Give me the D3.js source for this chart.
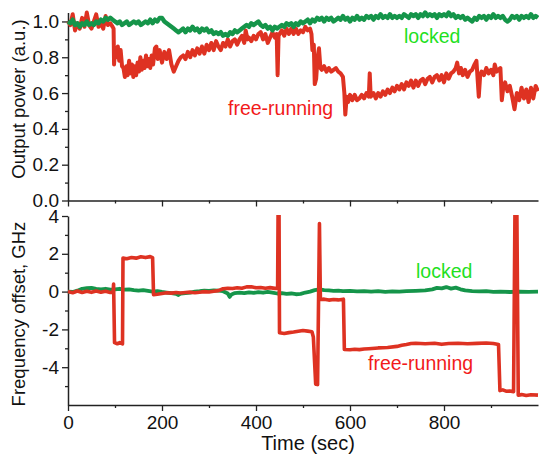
<!DOCTYPE html>
<html>
<head>
<meta charset="utf-8">
<script src="https://cdn.jsdelivr.net/npm/d3@7"></script>
<style>
  html, body { margin: 0; padding: 0; background: #fff; }
  svg { display: block; }
  text { font-family: "Liberation Sans", Arial, Helvetica, sans-serif; }
</style>
</head>
<body>
<script>
// ---------- DATA ----------
const xMajorTicks = [0, 200, 400, 600, 800];
const xMinorTicks = [100, 300, 500, 700, 900];
const powerMajorTicks = [0.0, 0.2, 0.4, 0.6, 0.8, 1.0];
const powerMinorTicks = [0.1, 0.3, 0.5, 0.7, 0.9];
const freqMajorTicks = [-4, -2, 0, 2, 4];
const freqMinorTicks = [-5, -3, -1, 1, 3];

// Output power, free-running laser [time (s), power (a.u.)]
const powerFree = [
[0,1.00],[5,0.98],[10,1.04],[15,0.95],[20,0.99],[25,0.96],[30,1.02],[35,0.97],[40,1.05],[45,0.98],
[50,0.96],[55,1.00],[60,1.04],[65,0.97],[70,0.99],[75,0.96],[80,1.03],[85,0.98],[90,0.99],[95,0.97],
[97,0.96],[98,0.76],[100,0.85],[103,0.80],[106,0.86],[109,0.78],[112,0.84],[115,0.75],[118,0.74],[121,0.69],
[124,0.75],[127,0.70],[130,0.78],[133,0.71],[136,0.76],[139,0.69],[142,0.75],[145,0.70],[148,0.77],[151,0.72],
[154,0.80],[157,0.73],[160,0.78],[163,0.74],[166,0.81],[169,0.75],[172,0.79],[175,0.74],[178,0.81],[181,0.76],
[185,0.85],[188,0.86],[191,0.79],[195,0.84],[200,0.77],[205,0.83],[210,0.79],[215,0.84],[220,0.76],[225,0.72],
[230,0.75],[235,0.78],[240,0.80],[245,0.81],[250,0.79],[255,0.83],[260,0.80],[265,0.84],[270,0.81],[275,0.85],
[280,0.82],[285,0.86],[290,0.82],[295,0.87],[300,0.84],[305,0.88],[310,0.84],[315,0.89],[320,0.86],[325,0.84],
[330,0.88],[335,0.86],[340,0.90],[345,0.86],[350,0.89],[355,0.90],[360,0.87],[365,0.90],[370,0.92],[375,0.88],
[378,0.95],[382,0.90],[385,0.91],[390,0.89],[395,0.92],[400,0.90],[405,0.93],[410,0.94],[415,0.90],[420,0.93],
[425,0.88],[430,0.91],[435,0.94],[440,0.91],[444,0.93],[446,0.70],[448,0.92],[450,0.93],[455,0.95],[460,0.92],
[465,0.96],[470,0.93],[475,0.96],[480,0.93],[485,0.96],[490,0.93],[495,0.95],[500,0.94],[505,0.97],[510,0.95],
[515,0.96],[518,0.93],[520,0.84],[523,0.87],[525,0.65],[528,0.68],[531,0.80],[534,0.85],[537,0.74],[540,0.73],
[545,0.75],[550,0.72],[555,0.74],[560,0.72],[565,0.73],[570,0.74],[575,0.72],[580,0.71],[585,0.69],[588,0.60],
[590,0.48],[593,0.58],[596,0.55],[600,0.59],[605,0.56],[610,0.59],[615,0.56],[620,0.57],[625,0.59],[630,0.57],
[635,0.60],[640,0.58],[642,0.71],[644,0.58],[650,0.60],[655,0.57],[660,0.60],[665,0.58],[670,0.61],[675,0.59],
[680,0.62],[685,0.60],[690,0.63],[695,0.61],[700,0.64],[705,0.62],[710,0.65],[715,0.62],[720,0.66],[725,0.64],
[730,0.67],[735,0.63],[740,0.67],[745,0.64],[750,0.67],[755,0.68],[760,0.65],[765,0.68],[770,0.69],[775,0.66],
[780,0.69],[785,0.70],[790,0.67],[795,0.70],[800,0.66],[805,0.71],[810,0.68],[815,0.71],[820,0.72],[825,0.74],
[828,0.77],[832,0.71],[836,0.74],[840,0.70],[845,0.73],[850,0.69],[855,0.72],[860,0.73],[865,0.76],[869,0.78],
[872,0.66],[874,0.58],[877,0.70],[880,0.72],[885,0.70],[890,0.74],[895,0.71],[900,0.73],[905,0.70],[908,0.76],
[912,0.72],[916,0.73],[920,0.74],[923,0.56],[926,0.63],[930,0.66],[935,0.61],[940,0.64],[945,0.58],[950,0.51],
[955,0.60],[960,0.56],[965,0.63],[970,0.57],[975,0.62],[980,0.55],[985,0.63],[990,0.57],[995,0.64],[1000,0.61]
];

// Output power, injection-locked laser [time (s), power (a.u.)]
const powerLocked = [
[0,1.00],[5,0.99],[10,1.01],[15,0.98],[20,0.99],[25,0.97],[30,0.99],[35,0.98],[40,1.00],[45,0.98],
[50,0.99],[55,0.98],[60,1.00],[65,0.99],[70,1.01],[75,1.00],[80,1.02],[85,1.01],[90,1.02],[95,1.01],
[100,1.00],[105,0.99],[110,1.00],[115,0.98],[120,0.99],[125,1.00],[130,0.98],[135,0.99],[140,1.00],[145,0.99],
[150,1.00],[155,0.98],[160,0.99],[165,1.00],[170,0.99],[175,1.01],[180,0.99],[185,1.01],[190,1.00],[195,1.02],
[200,1.02],[205,1.00],[210,0.99],[215,0.98],[220,0.97],[225,0.96],[230,0.95],[235,0.94],[240,0.95],[245,0.96],
[250,0.94],[255,0.96],[260,0.95],[265,0.97],[270,0.95],[275,0.96],[280,0.94],[285,0.96],[290,0.95],[295,0.96],
[300,0.94],[305,0.95],[310,0.93],[315,0.94],[320,0.93],[325,0.94],[330,0.92],[335,0.93],[340,0.92],[345,0.94],
[350,0.93],[355,0.95],[360,0.94],[365,0.95],[370,0.96],[375,0.97],[380,0.98],[385,0.97],[390,0.99],[395,0.98],
[400,0.99],[405,1.00],[410,0.98],[415,0.97],[420,0.98],[425,0.96],[430,0.97],[435,0.95],[440,0.97],[445,0.96],
[450,0.97],[455,0.98],[460,0.97],[465,0.99],[470,0.98],[475,0.99],[480,0.97],[485,0.99],[490,0.98],[495,1.00],
[500,0.99],[505,1.00],[510,1.01],[515,0.99],[520,1.01],[525,1.00],[530,1.02],[535,1.01],[540,1.02],[545,1.00],
[550,1.02],[555,1.01],[560,1.02],[565,1.00],[570,1.01],[575,1.02],[580,1.01],[585,1.03],[590,1.01],[595,1.02],
[600,1.00],[605,1.02],[610,1.01],[615,1.03],[620,1.01],[625,1.02],[630,1.01],[635,1.03],[640,1.02],[645,1.03],
[650,1.01],[655,1.03],[660,1.02],[665,1.04],[670,1.02],[675,1.03],[680,1.02],[685,1.04],[690,1.02],[695,1.03],
[700,1.02],[705,1.03],[710,1.02],[715,1.04],[720,1.03],[725,1.02],[730,1.04],[735,1.03],[740,1.04],[745,1.02],
[750,1.04],[755,1.03],[760,1.05],[765,1.03],[770,1.04],[775,1.03],[780,1.04],[785,1.02],[790,1.04],[795,1.03],
[800,1.04],[805,1.03],[810,1.05],[815,1.03],[820,1.04],[825,1.02],[830,1.03],[835,1.02],[840,1.03],[845,1.01],
[850,1.02],[855,1.01],[860,1.00],[865,1.02],[870,1.01],[875,1.03],[880,1.02],[885,1.03],[890,1.01],[895,1.03],
[900,1.02],[905,1.04],[910,1.02],[915,1.03],[920,1.02],[925,1.03],[930,1.01],[935,1.00],[940,1.01],[945,1.03],
[950,1.02],[955,1.03],[960,1.01],[965,1.03],[970,1.02],[975,1.03],[980,1.02],[985,1.04],[990,1.02],[995,1.03],
[1000,1.02]
];

// Frequency offset, free-running laser [time (s), offset (GHz)]
const freqFree = [
[0,0.00],[10,-0.06],[20,0.03],[30,-0.05],[40,0.02],[50,-0.04],[60,0.03],[70,-0.03],[80,0.02],[90,-0.05],
[96,-0.02],[97,0.40],[99,-2.70],[105,-2.76],[110,-2.70],[116,-2.76],[117,1.78],[125,1.74],[135,1.80],[145,1.77],
[155,1.84],[165,1.80],[175,1.85],[180,1.80],[182,-0.16],[190,-0.14],[200,-0.10],[210,-0.06],[220,-0.08],[230,-0.05],
[240,-0.07],[250,-0.05],[260,-0.03],[270,-0.06],[280,-0.03],[290,0.00],[300,-0.02],[310,0.02],[320,0.05],[330,0.15],
[340,0.18],[350,0.16],[360,0.20],[370,0.18],[380,0.25],[390,0.26],[400,0.20],[410,0.22],[420,0.18],[430,0.21],
[440,0.17],[446,0.18],[447,4.3],[449,4.3],[450,-2.18],[460,-2.22],[470,-2.17],[480,-2.14],[490,-2.10],[500,-2.06],
[510,-2.09],[519,-2.12],[522,-2.40],[527,-4.90],[531,-4.92],[535,3.6],[537,-0.42],[545,-0.40],[555,-0.45],[565,-0.42],
[575,-0.44],[586,-0.40],[588,-3.06],[600,-3.08],[610,-3.05],[620,-3.07],[630,-3.04],[640,-3.02],[660,-2.98],[680,-2.96],
[700,-2.90],[710,-2.84],[720,-2.80],[730,-2.75],[740,-2.73],[760,-2.76],[780,-2.73],[795,-2.79],[810,-2.75],[830,-2.73],
[850,-2.76],[870,-2.74],[890,-2.72],[905,-2.75],[916,-2.80],[919,-5.24],[925,-5.20],[932,-5.27],[940,-5.26],[948,-5.30],
[951,4.3],[955,4.3],[958,-5.48],[965,-5.45],[975,-5.50],[985,-5.46],[1000,-5.48]
];

// Frequency offset, injection-locked laser [time (s), offset (GHz)]
const freqLocked = [
[0,0.00],[10,-0.02],[20,0.05],[30,0.15],[40,0.18],[50,0.20],[60,0.15],[70,0.12],[80,0.15],[90,0.10],
[100,0.12],[110,0.15],[120,0.10],[130,0.12],[140,0.08],[150,0.05],[160,0.08],[170,0.04],[180,0.00],[190,0.02],
[200,-0.02],[210,-0.05],[220,-0.08],[230,-0.12],[235,-0.18],[240,-0.10],[250,-0.08],[260,-0.05],[270,0.00],[280,0.02],
[290,0.05],[300,0.04],[310,0.06],[320,0.05],[330,0.02],[340,-0.10],[344,-0.28],[348,-0.15],[355,-0.08],[365,-0.05],
[375,-0.08],[385,-0.04],[395,-0.07],[405,-0.03],[415,-0.06],[425,-0.02],[435,-0.05],[445,-0.10],[455,-0.08],[465,-0.12],
[475,-0.10],[485,-0.14],[495,-0.12],[505,-0.05],[515,0.00],[525,0.08],[535,0.12],[545,0.08],[555,0.06],[565,0.04],
[575,0.05],[585,0.02],[600,0.04],[615,0.01],[630,0.03],[645,0.00],[660,0.02],[675,-0.01],[690,0.01],[705,0.00],
[720,0.02],[740,0.04],[760,0.06],[775,0.12],[785,0.20],[795,0.17],[805,0.24],[815,0.16],[825,0.21],[835,0.12],
[845,0.06],[860,0.03],[875,0.01],[890,0.02],[905,-0.01],[920,0.00],[940,-0.02],[960,0.00],[980,-0.01],[1000,0.00]
];

// ---------- CHART ----------
const W = 539, H = 459;
const red = "#de3222", green = "#15954a";
const redText = "#f21a1a", greenText = "#1fe01f";

const svg = d3.select("body").append("svg").attr("width", W).attr("height", H);

const x = d3.scaleLinear().domain([0, 1000]).range([68, 538]);
const yP = d3.scaleLinear().domain([0, 1.05]).range([200.5, 12.5]);
const yF = d3.scaleLinear().domain([-6, 4]).range([405, 216]);

function styleAxis(g) {
  g.selectAll("path.domain").attr("stroke", "#222").attr("stroke-width", 1.5);
  g.selectAll(".tick line").attr("stroke", "#222").attr("stroke-width", 1.3);
  g.selectAll(".tick text").attr("fill", "#111").style("font-size", "19px")
    .style("font-family", '"Liberation Sans", Arial, sans-serif');
}

// Top panel x axis (no labels)
svg.append("g").attr("transform", "translate(0,200.5)")
  .call(d3.axisBottom(x).tickValues(xMajorTicks).tickSize(6).tickSizeOuter(0).tickFormat(""))
  .call(styleAxis);
svg.append("g").attr("transform", "translate(0,200.5)")
  .call(d3.axisBottom(x).tickValues(xMinorTicks).tickSize(3).tickFormat(""))
  .call(g => g.select(".domain").remove()).call(styleAxis);

// Bottom panel x axis
svg.append("g").attr("transform", "translate(0,405)")
  .call(d3.axisBottom(x).tickValues(xMajorTicks).tickSize(6).tickSizeOuter(0).tickPadding(5).tickFormat(d => String(d)))
  .call(styleAxis);
svg.append("g").attr("transform", "translate(0,405)")
  .call(d3.axisBottom(x).tickValues(xMinorTicks).tickSize(3).tickFormat(""))
  .call(g => g.select(".domain").remove()).call(styleAxis);

// Top y axis
svg.append("g").attr("transform", "translate(68,0)")
  .call(d3.axisLeft(yP).tickValues(powerMajorTicks).tickSize(6).tickSizeOuter(0).tickPadding(3).tickFormat(d3.format(".1f")))
  .call(styleAxis);
svg.append("g").attr("transform", "translate(68,0)")
  .call(d3.axisLeft(yP).tickValues(powerMinorTicks).tickSize(3).tickFormat(""))
  .call(g => g.select(".domain").remove()).call(styleAxis);

// Bottom y axis
svg.append("g").attr("transform", "translate(68,0)")
  .call(d3.axisLeft(yF).tickValues(freqMajorTicks).tickSize(6).tickSizeOuter(0).tickPadding(3).tickFormat(d => String(d)))
  .call(styleAxis);
svg.append("g").attr("transform", "translate(68,0)")
  .call(d3.axisLeft(yF).tickValues(freqMinorTicks).tickSize(3).tickFormat(""))
  .call(g => g.select(".domain").remove()).call(styleAxis);

// Clip for bottom panel
svg.append("clipPath").attr("id", "clipF").append("rect")
  .attr("x", 60).attr("y", yF(4) - 1).attr("width", 485).attr("height", yF(-6) - yF(4) + 1);

const lineP = d3.line().x(d => x(d[0])).y(d => yP(d[1]));
const lineF = d3.line().x(d => x(d[0])).y(d => yF(d[1]));

// Top panel lines
svg.append("path").datum(powerFree).attr("d", lineP)
  .attr("fill", "none").attr("stroke", red).attr("stroke-width", 4).attr("stroke-linejoin", "round");
svg.append("path").datum(powerLocked).attr("d", lineP)
  .attr("fill", "none").attr("stroke", green).attr("stroke-width", 4.4).attr("stroke-linejoin", "round");

// Bottom panel lines
const gF = svg.append("g").attr("clip-path", "url(#clipF)");
gF.append("path").datum(freqLocked).attr("d", lineF)
  .attr("fill", "none").attr("stroke", green).attr("stroke-width", 3.8).attr("stroke-linejoin", "round");
gF.append("path").datum(freqFree).attr("d", lineF)
  .attr("fill", "none").attr("stroke", red).attr("stroke-width", 3.6).attr("stroke-linejoin", "round");

// Axis titles
svg.append("text").attr("transform", "translate(25,99) rotate(-90)")
  .attr("text-anchor", "middle").style("font-size", "18.5px").attr("fill", "#111")
  .text("Output power (a.u.)");
svg.append("text").attr("transform", "translate(25,314) rotate(-90)")
  .attr("text-anchor", "middle").style("font-size", "18.5px").attr("fill", "#111")
  .text("Frequency offset, GHz");
svg.append("text").attr("x", 308).attr("y", 450)
  .attr("text-anchor", "middle").style("font-size", "20px").attr("fill", "#111")
  .text("Time (sec)");

// Annotations
svg.append("text").attr("x", 404).attr("y", 42.7).style("font-size", "19.5px").attr("fill", greenText).text("locked");
svg.append("text").attr("x", 228).attr("y", 115).style("font-size", "19.5px").attr("fill", redText).text("free-running");
svg.append("text").attr("x", 416).attr("y", 278).style("font-size", "19.5px").attr("fill", greenText).text("locked");
svg.append("text").attr("x", 368).attr("y", 369.7).style("font-size", "19.5px").attr("fill", redText).text("free-running");
</script>
</body>
</html>
